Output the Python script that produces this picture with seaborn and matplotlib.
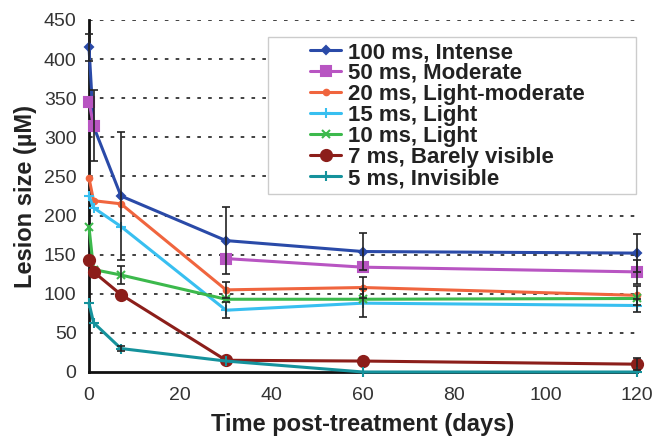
import numpy as np
import pandas as pd
import matplotlib
matplotlib.use("Agg")
import matplotlib.pyplot as plt
import seaborn as sns
from matplotlib.patches import Rectangle

sns.set_style("white")
plt.rcParams['font.family'] = ['Liberation Sans', 'DejaVu Sans']

days = [0, 1, 7, 30, 60, 120]
labels = ["100 ms, Intense", "50 ms, Moderate", "20 ms, Light-moderate",
          "15 ms, Light", "10 ms, Light", "7 ms, Barely visible", "5 ms, Invisible"]
v100 = [415, 314, 225, 168, 154, 152]
v50 = [345, 315, np.nan, 145, 134, 128]
v20 = [248, 219, 215, 105, 108, 98]
v15 = [225, 210, 186, 79, 88, 85]
v10 = [185, 131, 124, 93, 93, 94]
v7 = [143, 128, 99, 15, 14, 10]
v5 = [88, 63, 30, 14, 0, 0]
e100 = [17, 0, 82, 43, 24, 24]
e50 = [0, 45, 0, 0, 0, 15]
e20 = [0, 0, 0, 10, 14, 12]
e15 = [0, 0, 0, 10, 18, 8]
e10 = [0, 0, 11, 0, 0, 0]
e7 = [0, 0, 0, 0, 0, 8]
e5 = [0, 0, 3, 0, 0, 0]

values = [v100, v50, v20, v15, v10, v7, v5]
errors = [e100, e50, e20, e15, e10, e7, e5]
colors = ["#2a4aa8", "#b855c2", "#f0653e", "#38bff0", "#3cb94c", "#8c1e1a", "#15929c"]
markers = ["D", "s", "o", "+", "x", "o", "+"]
msizes = [4, 7, 4, 7, 6, 8, 7]

fig = plt.figure(figsize=(6.69, 4.43), dpi=100)
ax = fig.add_axes([89/669, 1-372/443, 548/669, 352/443])

for v, e, c, m, ms, lab in zip(values, errors, colors, markers, msizes, labels):
    df = pd.DataFrame({"day": days, "val": v})
    # split into contiguous segments (gaps where a value is missing)
    df["seg"] = df["val"].isna().cumsum()
    df = df.dropna()
    for i, (_, sub) in enumerate(df.groupby("seg")):
        sns.lineplot(data=sub, x="day", y="val", ax=ax, color=c, marker=m, markersize=ms,
                     markeredgecolor=c, markeredgewidth=1.5, linewidth=2.2,
                     label=lab if i == 0 else None, clip_on=False, zorder=3)
    ee = np.array(e, dtype=float)
    vv = np.array(v, dtype=float)
    mask = ee > 0
    ax.errorbar(np.array(days)[mask], vv[mask], yerr=ee[mask], fmt='none',
                ecolor="#222222", elinewidth=1.2, capsize=3, capthick=1.2, zorder=4,
                clip_on=False)

ax.set_xlim(0, 120)
ax.set_ylim(0, 450)
ax.set_xticks([0, 20, 40, 60, 80, 100, 120])
ax.set_yticks(np.arange(0, 451, 50))
for yv in np.arange(50, 451, 50):
    ax.axhline(yv, color="#333333", linestyle=(0, (2, 4)), linewidth=1.3, zorder=1)

for s in ["top", "right"]:
    ax.spines[s].set_visible(False)
for s in ["left", "bottom"]:
    ax.spines[s].set_color("#111111")
    ax.spines[s].set_linewidth(2)
ax.tick_params(axis='y', direction='inout', length=8, width=1.5, labelsize=14,
               labelcolor="#333333", color="#111111", pad=5)
ax.tick_params(axis='x', direction='out', length=5, width=1.5, labelsize=14,
               labelcolor="#333333", color="#111111", pad=6)
ax.set_xlabel("Time post-treatment (days)", fontsize=17, fontweight='bold',
              color="#222222", labelpad=6)
ax.set_ylabel("Lesion size (µM)", fontsize=17, fontweight='bold', color="#222222",
              labelpad=5)

ax.add_patch(Rectangle(((268-89)/548, (372-194)/352), (636-268)/548, (194-37)/352,
                       transform=ax.transAxes, facecolor="white", edgecolor="#cccccc",
                       linewidth=1, zorder=5, clip_on=False))
leg = ax.legend(loc="upper left", bbox_to_anchor=((310-89)/548, (372-42)/352),
                frameon=False, prop={"weight": "bold", "size": 16},
                handlelength=1.4, handletextpad=0.3, labelspacing=0.0,
                borderaxespad=0, borderpad=0)
leg.set_zorder(6)
for t in leg.get_texts():
    t.set_color("#222222")

fig.savefig("out.png", dpi=100)
